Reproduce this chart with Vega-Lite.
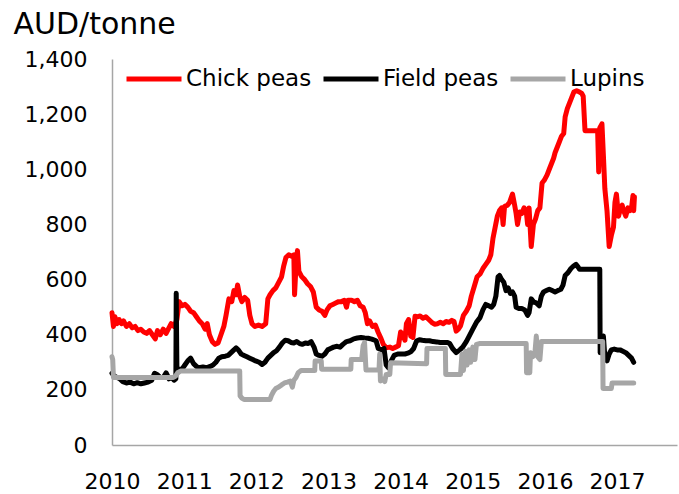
{
"$schema": "https://vega.github.io/schema/vega-lite/v6.json",
"width": 565, "height": 386,
"autosize": {"type": "none"},
"padding": {"left": 112, "top": 59, "right": 2, "bottom": 49},
"background": "white",
"config": {"view": {"stroke": null}, "font": "DejaVu Sans"},
"data": {"values": [
{"s":"Chick peas","t":2010.00,"v":480},{"s":"Chick peas","t":2010.02,"v":430},{"s":"Chick peas","t":2010.04,"v":465},{"s":"Chick peas","t":2010.07,"v":440},{"s":"Chick peas","t":2010.10,"v":455},{"s":"Chick peas","t":2010.13,"v":440},{"s":"Chick peas","t":2010.16,"v":450},{"s":"Chick peas","t":2010.20,"v":430},{"s":"Chick peas","t":2010.24,"v":440},{"s":"Chick peas","t":2010.28,"v":425},{"s":"Chick peas","t":2010.32,"v":430},{"s":"Chick peas","t":2010.36,"v":415},{"s":"Chick peas","t":2010.40,"v":420},{"s":"Chick peas","t":2010.44,"v":410},{"s":"Chick peas","t":2010.48,"v":405},{"s":"Chick peas","t":2010.52,"v":415},{"s":"Chick peas","t":2010.56,"v":400},{"s":"Chick peas","t":2010.60,"v":385},{"s":"Chick peas","t":2010.63,"v":415},{"s":"Chick peas","t":2010.67,"v":400},{"s":"Chick peas","t":2010.71,"v":420},{"s":"Chick peas","t":2010.75,"v":405},{"s":"Chick peas","t":2010.78,"v":420},{"s":"Chick peas","t":2010.82,"v":440},{"s":"Chick peas","t":2010.86,"v":430},{"s":"Chick peas","t":2010.90,"v":455},{"s":"Chick peas","t":2010.93,"v":520},{"s":"Chick peas","t":2010.97,"v":505},{"s":"Chick peas","t":2011.01,"v":510},{"s":"Chick peas","t":2011.05,"v":500},{"s":"Chick peas","t":2011.09,"v":485},{"s":"Chick peas","t":2011.13,"v":480},{"s":"Chick peas","t":2011.17,"v":465},{"s":"Chick peas","t":2011.21,"v":450},{"s":"Chick peas","t":2011.25,"v":440},{"s":"Chick peas","t":2011.29,"v":420},{"s":"Chick peas","t":2011.32,"v":440},{"s":"Chick peas","t":2011.35,"v":400},{"s":"Chick peas","t":2011.39,"v":375},{"s":"Chick peas","t":2011.43,"v":365},{"s":"Chick peas","t":2011.47,"v":370},{"s":"Chick peas","t":2011.51,"v":400},{"s":"Chick peas","t":2011.55,"v":430},{"s":"Chick peas","t":2011.58,"v":470},{"s":"Chick peas","t":2011.62,"v":530},{"s":"Chick peas","t":2011.66,"v":520},{"s":"Chick peas","t":2011.69,"v":560},{"s":"Chick peas","t":2011.72,"v":545},{"s":"Chick peas","t":2011.74,"v":580},{"s":"Chick peas","t":2011.77,"v":540},{"s":"Chick peas","t":2011.80,"v":520},{"s":"Chick peas","t":2011.84,"v":535},{"s":"Chick peas","t":2011.88,"v":525},{"s":"Chick peas","t":2011.91,"v":470},{"s":"Chick peas","t":2011.94,"v":440},{"s":"Chick peas","t":2011.98,"v":430},{"s":"Chick peas","t":2012.03,"v":435},{"s":"Chick peas","t":2012.08,"v":430},{"s":"Chick peas","t":2012.13,"v":440},{"s":"Chick peas","t":2012.16,"v":530},{"s":"Chick peas","t":2012.19,"v":545},{"s":"Chick peas","t":2012.23,"v":560},{"s":"Chick peas","t":2012.27,"v":570},{"s":"Chick peas","t":2012.31,"v":590},{"s":"Chick peas","t":2012.35,"v":610},{"s":"Chick peas","t":2012.38,"v":650},{"s":"Chick peas","t":2012.41,"v":680},{"s":"Chick peas","t":2012.45,"v":690},{"s":"Chick peas","t":2012.49,"v":685},{"s":"Chick peas","t":2012.52,"v":690},{"s":"Chick peas","t":2012.53,"v":545},{"s":"Chick peas","t":2012.55,"v":650},{"s":"Chick peas","t":2012.57,"v":705},{"s":"Chick peas","t":2012.59,"v":630},{"s":"Chick peas","t":2012.63,"v":610},{"s":"Chick peas","t":2012.67,"v":600},{"s":"Chick peas","t":2012.71,"v":585},{"s":"Chick peas","t":2012.75,"v":575},{"s":"Chick peas","t":2012.79,"v":555},{"s":"Chick peas","t":2012.83,"v":500},{"s":"Chick peas","t":2012.87,"v":490},{"s":"Chick peas","t":2012.91,"v":485},{"s":"Chick peas","t":2012.95,"v":470},{"s":"Chick peas","t":2012.98,"v":490},{"s":"Chick peas","t":2013.02,"v":505},{"s":"Chick peas","t":2013.06,"v":510},{"s":"Chick peas","t":2013.10,"v":515},{"s":"Chick peas","t":2013.14,"v":520},{"s":"Chick peas","t":2013.18,"v":520},{"s":"Chick peas","t":2013.22,"v":525},{"s":"Chick peas","t":2013.25,"v":500},{"s":"Chick peas","t":2013.27,"v":525},{"s":"Chick peas","t":2013.32,"v":525},{"s":"Chick peas","t":2013.36,"v":520},{"s":"Chick peas","t":2013.40,"v":525},{"s":"Chick peas","t":2013.44,"v":505},{"s":"Chick peas","t":2013.48,"v":500},{"s":"Chick peas","t":2013.51,"v":480},{"s":"Chick peas","t":2013.54,"v":440},{"s":"Chick peas","t":2013.57,"v":450},{"s":"Chick peas","t":2013.61,"v":430},{"s":"Chick peas","t":2013.65,"v":435},{"s":"Chick peas","t":2013.69,"v":408},{"s":"Chick peas","t":2013.73,"v":385},{"s":"Chick peas","t":2013.76,"v":365},{"s":"Chick peas","t":2013.80,"v":353},{"s":"Chick peas","t":2013.85,"v":355},{"s":"Chick peas","t":2013.89,"v":350},{"s":"Chick peas","t":2013.93,"v":355},{"s":"Chick peas","t":2013.97,"v":360},{"s":"Chick peas","t":2014.00,"v":410},{"s":"Chick peas","t":2014.03,"v":400},{"s":"Chick peas","t":2014.06,"v":380},{"s":"Chick peas","t":2014.08,"v":440},{"s":"Chick peas","t":2014.11,"v":455},{"s":"Chick peas","t":2014.14,"v":395},{"s":"Chick peas","t":2014.17,"v":390},{"s":"Chick peas","t":2014.20,"v":467},{"s":"Chick peas","t":2014.23,"v":465},{"s":"Chick peas","t":2014.27,"v":468},{"s":"Chick peas","t":2014.31,"v":460},{"s":"Chick peas","t":2014.35,"v":465},{"s":"Chick peas","t":2014.39,"v":455},{"s":"Chick peas","t":2014.43,"v":445},{"s":"Chick peas","t":2014.47,"v":438},{"s":"Chick peas","t":2014.51,"v":440},{"s":"Chick peas","t":2014.55,"v":445},{"s":"Chick peas","t":2014.59,"v":440},{"s":"Chick peas","t":2014.63,"v":448},{"s":"Chick peas","t":2014.67,"v":445},{"s":"Chick peas","t":2014.71,"v":452},{"s":"Chick peas","t":2014.74,"v":448},{"s":"Chick peas","t":2014.77,"v":413},{"s":"Chick peas","t":2014.80,"v":420},{"s":"Chick peas","t":2014.83,"v":432},{"s":"Chick peas","t":2014.87,"v":470},{"s":"Chick peas","t":2014.91,"v":485},{"s":"Chick peas","t":2014.95,"v":505},{"s":"Chick peas","t":2014.98,"v":540},{"s":"Chick peas","t":2015.02,"v":575},{"s":"Chick peas","t":2015.06,"v":610},{"s":"Chick peas","t":2015.10,"v":620},{"s":"Chick peas","t":2015.14,"v":640},{"s":"Chick peas","t":2015.18,"v":655},{"s":"Chick peas","t":2015.22,"v":670},{"s":"Chick peas","t":2015.25,"v":690},{"s":"Chick peas","t":2015.28,"v":750},{"s":"Chick peas","t":2015.31,"v":790},{"s":"Chick peas","t":2015.34,"v":830},{"s":"Chick peas","t":2015.37,"v":850},{"s":"Chick peas","t":2015.40,"v":860},{"s":"Chick peas","t":2015.42,"v":800},{"s":"Chick peas","t":2015.44,"v":865},{"s":"Chick peas","t":2015.48,"v":870},{"s":"Chick peas","t":2015.51,"v":880},{"s":"Chick peas","t":2015.55,"v":910},{"s":"Chick peas","t":2015.58,"v":870},{"s":"Chick peas","t":2015.60,"v":840},{"s":"Chick peas","t":2015.62,"v":800},{"s":"Chick peas","t":2015.65,"v":845},{"s":"Chick peas","t":2015.68,"v":840},{"s":"Chick peas","t":2015.71,"v":860},{"s":"Chick peas","t":2015.74,"v":850},{"s":"Chick peas","t":2015.76,"v":800},{"s":"Chick peas","t":2015.78,"v":860},{"s":"Chick peas","t":2015.81,"v":720},{"s":"Chick peas","t":2015.84,"v":800},{"s":"Chick peas","t":2015.87,"v":820},{"s":"Chick peas","t":2015.90,"v":850},{"s":"Chick peas","t":2015.93,"v":860},{"s":"Chick peas","t":2015.96,"v":950},{"s":"Chick peas","t":2015.99,"v":960},{"s":"Chick peas","t":2016.03,"v":980},{"s":"Chick peas","t":2016.06,"v":1000},{"s":"Chick peas","t":2016.09,"v":1020},{"s":"Chick peas","t":2016.12,"v":1040},{"s":"Chick peas","t":2016.14,"v":1060},{"s":"Chick peas","t":2016.17,"v":1080},{"s":"Chick peas","t":2016.20,"v":1100},{"s":"Chick peas","t":2016.23,"v":1120},{"s":"Chick peas","t":2016.26,"v":1130},{"s":"Chick peas","t":2016.28,"v":1190},{"s":"Chick peas","t":2016.31,"v":1220},{"s":"Chick peas","t":2016.34,"v":1240},{"s":"Chick peas","t":2016.37,"v":1260},{"s":"Chick peas","t":2016.40,"v":1280},{"s":"Chick peas","t":2016.44,"v":1285},{"s":"Chick peas","t":2016.48,"v":1280},{"s":"Chick peas","t":2016.51,"v":1275},{"s":"Chick peas","t":2016.53,"v":1265},{"s":"Chick peas","t":2016.555,"v":1140},{"s":"Chick peas","t":2016.73,"v":1140},{"s":"Chick peas","t":2016.745,"v":990},{"s":"Chick peas","t":2016.76,"v":1150},{"s":"Chick peas","t":2016.79,"v":1165},{"s":"Chick peas","t":2016.81,"v":1050},{"s":"Chick peas","t":2016.83,"v":930},{"s":"Chick peas","t":2016.86,"v":850},{"s":"Chick peas","t":2016.89,"v":720},{"s":"Chick peas","t":2016.92,"v":760},{"s":"Chick peas","t":2016.95,"v":790},{"s":"Chick peas","t":2016.97,"v":880},{"s":"Chick peas","t":2016.99,"v":910},{"s":"Chick peas","t":2017.02,"v":830},{"s":"Chick peas","t":2017.04,"v":850},{"s":"Chick peas","t":2017.07,"v":870},{"s":"Chick peas","t":2017.09,"v":850},{"s":"Chick peas","t":2017.12,"v":830},{"s":"Chick peas","t":2017.15,"v":860},{"s":"Chick peas","t":2017.18,"v":850},{"s":"Chick peas","t":2017.20,"v":860},{"s":"Chick peas","t":2017.22,"v":905},{"s":"Chick peas","t":2017.23,"v":850},{"s":"Chick peas","t":2017.24,"v":900},
{"s":"Field peas","t":2010.00,"v":260},{"s":"Field peas","t":2010.03,"v":250},{"s":"Field peas","t":2010.07,"v":245},{"s":"Field peas","t":2010.11,"v":240},{"s":"Field peas","t":2010.15,"v":230},{"s":"Field peas","t":2010.20,"v":225},{"s":"Field peas","t":2010.25,"v":228},{"s":"Field peas","t":2010.30,"v":222},{"s":"Field peas","t":2010.35,"v":226},{"s":"Field peas","t":2010.40,"v":222},{"s":"Field peas","t":2010.45,"v":225},{"s":"Field peas","t":2010.50,"v":228},{"s":"Field peas","t":2010.55,"v":235},{"s":"Field peas","t":2010.59,"v":260},{"s":"Field peas","t":2010.63,"v":255},{"s":"Field peas","t":2010.67,"v":245},{"s":"Field peas","t":2010.71,"v":245},{"s":"Field peas","t":2010.75,"v":262},{"s":"Field peas","t":2010.79,"v":240},{"s":"Field peas","t":2010.83,"v":245},{"s":"Field peas","t":2010.86,"v":235},{"s":"Field peas","t":2010.885,"v":240},{"s":"Field peas","t":2010.89,"v":550},{"s":"Field peas","t":2010.90,"v":260},{"s":"Field peas","t":2010.93,"v":275},{"s":"Field peas","t":2010.97,"v":275},{"s":"Field peas","t":2011.01,"v":290},{"s":"Field peas","t":2011.05,"v":305},{"s":"Field peas","t":2011.09,"v":315},{"s":"Field peas","t":2011.13,"v":295},{"s":"Field peas","t":2011.17,"v":285},{"s":"Field peas","t":2011.21,"v":280},{"s":"Field peas","t":2011.26,"v":283},{"s":"Field peas","t":2011.31,"v":280},{"s":"Field peas","t":2011.36,"v":285},{"s":"Field peas","t":2011.40,"v":290},{"s":"Field peas","t":2011.44,"v":300},{"s":"Field peas","t":2011.48,"v":315},{"s":"Field peas","t":2011.52,"v":320},{"s":"Field peas","t":2011.57,"v":322},{"s":"Field peas","t":2011.61,"v":325},{"s":"Field peas","t":2011.65,"v":335},{"s":"Field peas","t":2011.69,"v":345},{"s":"Field peas","t":2011.72,"v":352},{"s":"Field peas","t":2011.75,"v":345},{"s":"Field peas","t":2011.79,"v":330},{"s":"Field peas","t":2011.83,"v":325},{"s":"Field peas","t":2011.87,"v":320},{"s":"Field peas","t":2011.91,"v":315},{"s":"Field peas","t":2011.95,"v":310},{"s":"Field peas","t":2011.99,"v":305},{"s":"Field peas","t":2012.04,"v":300},{"s":"Field peas","t":2012.08,"v":292},{"s":"Field peas","t":2012.12,"v":300},{"s":"Field peas","t":2012.16,"v":315},{"s":"Field peas","t":2012.20,"v":325},{"s":"Field peas","t":2012.24,"v":335},{"s":"Field peas","t":2012.28,"v":342},{"s":"Field peas","t":2012.32,"v":355},{"s":"Field peas","t":2012.36,"v":370},{"s":"Field peas","t":2012.40,"v":380},{"s":"Field peas","t":2012.44,"v":378},{"s":"Field peas","t":2012.48,"v":372},{"s":"Field peas","t":2012.52,"v":370},{"s":"Field peas","t":2012.56,"v":375},{"s":"Field peas","t":2012.60,"v":368},{"s":"Field peas","t":2012.64,"v":365},{"s":"Field peas","t":2012.68,"v":370},{"s":"Field peas","t":2012.72,"v":368},{"s":"Field peas","t":2012.76,"v":375},{"s":"Field peas","t":2012.80,"v":355},{"s":"Field peas","t":2012.83,"v":330},{"s":"Field peas","t":2012.87,"v":325},{"s":"Field peas","t":2012.91,"v":322},{"s":"Field peas","t":2012.95,"v":330},{"s":"Field peas","t":2012.99,"v":345},{"s":"Field peas","t":2013.03,"v":350},{"s":"Field peas","t":2013.07,"v":355},{"s":"Field peas","t":2013.12,"v":358},{"s":"Field peas","t":2013.16,"v":355},{"s":"Field peas","t":2013.20,"v":365},{"s":"Field peas","t":2013.25,"v":375},{"s":"Field peas","t":2013.30,"v":378},{"s":"Field peas","t":2013.35,"v":385},{"s":"Field peas","t":2013.40,"v":388},{"s":"Field peas","t":2013.45,"v":390},{"s":"Field peas","t":2013.50,"v":388},{"s":"Field peas","t":2013.55,"v":387},{"s":"Field peas","t":2013.60,"v":384},{"s":"Field peas","t":2013.66,"v":378},{"s":"Field peas","t":2013.69,"v":350},{"s":"Field peas","t":2013.74,"v":345},{"s":"Field peas","t":2013.77,"v":350},{"s":"Field peas","t":2013.80,"v":290},{"s":"Field peas","t":2013.83,"v":280},{"s":"Field peas","t":2013.87,"v":305},{"s":"Field peas","t":2013.91,"v":325},{"s":"Field peas","t":2013.96,"v":330},{"s":"Field peas","t":2014.01,"v":330},{"s":"Field peas","t":2014.06,"v":330},{"s":"Field peas","t":2014.10,"v":333},{"s":"Field peas","t":2014.14,"v":338},{"s":"Field peas","t":2014.18,"v":350},{"s":"Field peas","t":2014.22,"v":377},{"s":"Field peas","t":2014.26,"v":382},{"s":"Field peas","t":2014.30,"v":380},{"s":"Field peas","t":2014.35,"v":378},{"s":"Field peas","t":2014.40,"v":378},{"s":"Field peas","t":2014.45,"v":375},{"s":"Field peas","t":2014.50,"v":374},{"s":"Field peas","t":2014.55,"v":372},{"s":"Field peas","t":2014.60,"v":372},{"s":"Field peas","t":2014.65,"v":372},{"s":"Field peas","t":2014.68,"v":368},{"s":"Field peas","t":2014.72,"v":350},{"s":"Field peas","t":2014.77,"v":335},{"s":"Field peas","t":2014.82,"v":345},{"s":"Field peas","t":2014.86,"v":355},{"s":"Field peas","t":2014.91,"v":375},{"s":"Field peas","t":2014.95,"v":395},{"s":"Field peas","t":2015.00,"v":420},{"s":"Field peas","t":2015.05,"v":445},{"s":"Field peas","t":2015.10,"v":462},{"s":"Field peas","t":2015.14,"v":490},{"s":"Field peas","t":2015.18,"v":510},{"s":"Field peas","t":2015.22,"v":505},{"s":"Field peas","t":2015.26,"v":500},{"s":"Field peas","t":2015.29,"v":510},{"s":"Field peas","t":2015.32,"v":540},{"s":"Field peas","t":2015.35,"v":610},{"s":"Field peas","t":2015.37,"v":615},{"s":"Field peas","t":2015.40,"v":600},{"s":"Field peas","t":2015.43,"v":590},{"s":"Field peas","t":2015.46,"v":560},{"s":"Field peas","t":2015.49,"v":570},{"s":"Field peas","t":2015.52,"v":550},{"s":"Field peas","t":2015.55,"v":555},{"s":"Field peas","t":2015.58,"v":540},{"s":"Field peas","t":2015.60,"v":500},{"s":"Field peas","t":2015.64,"v":495},{"s":"Field peas","t":2015.68,"v":495},{"s":"Field peas","t":2015.72,"v":490},{"s":"Field peas","t":2015.76,"v":470},{"s":"Field peas","t":2015.78,"v":480},{"s":"Field peas","t":2015.81,"v":530},{"s":"Field peas","t":2015.84,"v":520},{"s":"Field peas","t":2015.88,"v":515},{"s":"Field peas","t":2015.92,"v":505},{"s":"Field peas","t":2015.95,"v":540},{"s":"Field peas","t":2015.98,"v":555},{"s":"Field peas","t":2016.02,"v":560},{"s":"Field peas","t":2016.06,"v":565},{"s":"Field peas","t":2016.10,"v":560},{"s":"Field peas","t":2016.14,"v":555},{"s":"Field peas","t":2016.18,"v":560},{"s":"Field peas","t":2016.22,"v":565},{"s":"Field peas","t":2016.25,"v":580},{"s":"Field peas","t":2016.28,"v":615},{"s":"Field peas","t":2016.32,"v":625},{"s":"Field peas","t":2016.36,"v":640},{"s":"Field peas","t":2016.40,"v":650},{"s":"Field peas","t":2016.43,"v":655},{"s":"Field peas","t":2016.46,"v":645},{"s":"Field peas","t":2016.48,"v":637},{"s":"Field peas","t":2016.60,"v":637},{"s":"Field peas","t":2016.76,"v":637},{"s":"Field peas","t":2016.765,"v":335},{"s":"Field peas","t":2016.78,"v":340},{"s":"Field peas","t":2016.81,"v":395},{"s":"Field peas","t":2016.83,"v":320},{"s":"Field peas","t":2016.86,"v":305},{"s":"Field peas","t":2016.89,"v":330},{"s":"Field peas","t":2016.92,"v":345},{"s":"Field peas","t":2016.96,"v":348},{"s":"Field peas","t":2017.00,"v":345},{"s":"Field peas","t":2017.04,"v":345},{"s":"Field peas","t":2017.08,"v":340},{"s":"Field peas","t":2017.12,"v":335},{"s":"Field peas","t":2017.16,"v":325},{"s":"Field peas","t":2017.20,"v":315},{"s":"Field peas","t":2017.23,"v":300},
{"s":"Lupins","t":2010.00,"v":320},{"s":"Lupins","t":2010.01,"v":310},{"s":"Lupins","t":2010.02,"v":245},{"s":"Lupins","t":2010.40,"v":245},{"s":"Lupins","t":2010.85,"v":245},{"s":"Lupins","t":2010.88,"v":250},{"s":"Lupins","t":2010.91,"v":262},{"s":"Lupins","t":2010.95,"v":268},{"s":"Lupins","t":2011.00,"v":268},{"s":"Lupins","t":2011.77,"v":268},{"s":"Lupins","t":2011.775,"v":178},{"s":"Lupins","t":2011.80,"v":170},{"s":"Lupins","t":2011.83,"v":165},{"s":"Lupins","t":2012.19,"v":165},{"s":"Lupins","t":2012.21,"v":180},{"s":"Lupins","t":2012.24,"v":195},{"s":"Lupins","t":2012.27,"v":205},{"s":"Lupins","t":2012.31,"v":210},{"s":"Lupins","t":2012.35,"v":218},{"s":"Lupins","t":2012.39,"v":225},{"s":"Lupins","t":2012.43,"v":228},{"s":"Lupins","t":2012.47,"v":232},{"s":"Lupins","t":2012.50,"v":210},{"s":"Lupins","t":2012.52,"v":235},{"s":"Lupins","t":2012.55,"v":245},{"s":"Lupins","t":2012.58,"v":262},{"s":"Lupins","t":2012.62,"v":270},{"s":"Lupins","t":2012.81,"v":270},{"s":"Lupins","t":2012.815,"v":305},{"s":"Lupins","t":2012.90,"v":305},{"s":"Lupins","t":2012.905,"v":275},{"s":"Lupins","t":2013.31,"v":275},{"s":"Lupins","t":2013.315,"v":310},{"s":"Lupins","t":2013.46,"v":310},{"s":"Lupins","t":2013.48,"v":360},{"s":"Lupins","t":2013.50,"v":372},{"s":"Lupins","t":2013.52,"v":272},{"s":"Lupins","t":2013.70,"v":272},{"s":"Lupins","t":2013.71,"v":330},{"s":"Lupins","t":2013.72,"v":232},{"s":"Lupins","t":2013.76,"v":240},{"s":"Lupins","t":2013.78,"v":230},{"s":"Lupins","t":2013.80,"v":256},{"s":"Lupins","t":2013.85,"v":256},{"s":"Lupins","t":2013.86,"v":298},{"s":"Lupins","t":2014.36,"v":295},{"s":"Lupins","t":2014.365,"v":350},{"s":"Lupins","t":2014.62,"v":350},{"s":"Lupins","t":2014.625,"v":256},{"s":"Lupins","t":2014.83,"v":256},{"s":"Lupins","t":2014.85,"v":330},{"s":"Lupins","t":2014.87,"v":270},{"s":"Lupins","t":2014.90,"v":340},{"s":"Lupins","t":2014.92,"v":290},{"s":"Lupins","t":2014.95,"v":345},{"s":"Lupins","t":2014.97,"v":300},{"s":"Lupins","t":2015.00,"v":355},{"s":"Lupins","t":2015.03,"v":310},{"s":"Lupins","t":2015.05,"v":365},{"s":"Lupins","t":2015.10,"v":368},{"s":"Lupins","t":2015.74,"v":368},{"s":"Lupins","t":2015.745,"v":262},{"s":"Lupins","t":2015.79,"v":262},{"s":"Lupins","t":2015.80,"v":335},{"s":"Lupins","t":2015.83,"v":320},{"s":"Lupins","t":2015.86,"v":330},{"s":"Lupins","t":2015.88,"v":395},{"s":"Lupins","t":2015.90,"v":320},{"s":"Lupins","t":2015.93,"v":310},{"s":"Lupins","t":2015.95,"v":375},{"s":"Lupins","t":2016.80,"v":375},{"s":"Lupins","t":2016.805,"v":205},{"s":"Lupins","t":2016.92,"v":205},{"s":"Lupins","t":2016.93,"v":225},{"s":"Lupins","t":2017.23,"v":225}
]},
"mark": {"type": "line", "strokeWidth": 5, "strokeJoin": "round", "strokeCap": "round"},
"encoding": {
 "x": {"field": "t", "type": "quantitative", "scale": {"domain": [2010, 2017.83], "nice": false, "zero": false},
   "axis": {"values": [2010,2011,2012,2013,2014,2015,2016,2017], "format": "d", "title": null, "grid": false, "ticks": false, "labelFontSize": 22, "labelFont": "DejaVu Sans", "labelColor": "black", "labelPadding": 26, "domainColor": "#A6A6A6", "domainWidth": 1.5, "labelFlush": false, "labelOverlap": false}},
 "y": {"field": "v", "type": "quantitative", "scale": {"domain": [0, 1400], "nice": false},
   "axis": {"values": [0,200,400,600,800,1000,1200,1400], "format": ",d", "title": "AUD/tonne", "titleAngle": 0, "titleX": -99, "titleY": -26, "titleAlign": "left", "titleBaseline": "alphabetic", "titleFontSize": 30, "titleFontWeight": "normal", "titleFont": "DejaVu Sans", "titleColor": "black", "grid": false, "ticks": false, "labelFontSize": 22, "labelFont": "DejaVu Sans", "labelColor": "black", "labelPadding": 25, "domainColor": "#A6A6A6", "domainWidth": 1.5, "labelOverlap": false}},
 "color": {"field": "s", "type": "nominal", "scale": {"domain": ["Chick peas", "Field peas", "Lupins"], "range": ["#FF0000", "#000000", "#A6A6A6"]},
   "legend": {"orient": "none", "legendX": 12, "legendY": -10, "direction": "horizontal", "title": null, "symbolType": "stroke", "symbolSize": 3025, "symbolStrokeWidth": 5, "labelFontSize": 23, "labelFont": "DejaVu Sans", "labelColor": "black", "labelOffset": 2, "columnPadding": 1, "padding": 0, "offset": 0}}
}
}
